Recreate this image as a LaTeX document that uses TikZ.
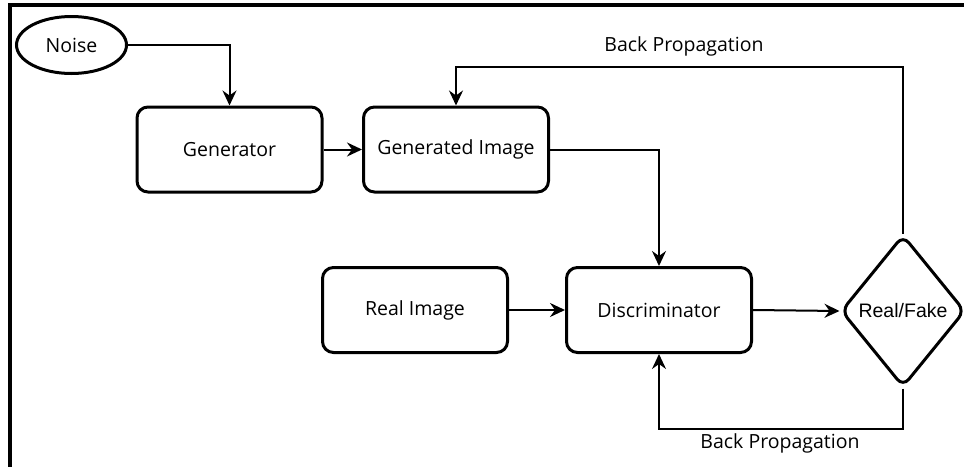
\documentclass[tikz,border=0pt]{standalone}
\usepackage{fontspec}
\setmainfont{Open Sans}
\newfontfamily\arialfont{Liberation Sans}
\usetikzlibrary{shapes.geometric,arrows.meta}

\tikzset{
  block/.style={draw,line width=3pt,rounded corners=11pt,
    minimum width=185pt,minimum height=85pt,font=\fontsize{19.5}{23}\selectfont},
  noisebox/.style={draw,ellipse,line width=3pt,
    minimum width=110pt,minimum height=57pt,font=\fontsize{19.5}{23}\selectfont},
  decision/.style={draw,diamond,line width=3pt,rounded corners=9pt,
    minimum width=124pt,minimum height=152pt,inner sep=0pt},
  conn/.style={line width=2pt,-{Stealth[length=15pt,width=14pt,inset=5pt]}},
  bplabel/.style={font=\fontsize{19.5}{23}\selectfont},
  frame/.style={line width=3.5pt}
}

\begin{document}
\begin{tikzpicture}[x=1pt,y=-1pt]
  \useasboundingbox (0,0) rectangle (964,466);

  % Rahmen
  \draw[frame] (10,470) -- (10,5) -- (970,5);

  % Bloecke
  \node[noisebox] (noise) at (71.5,45) {Noise};
  \node[block] (gen) at (229.5,149.5) {Generator};
  \node[block] (genimg) at (456,149.5) {Generated Image};
  \node[block] (real) at (415,310) {Real Image};
  \node[block] (disc) at (659,310) {Discriminator};
  \node[decision,label={center:\arialfont\fontsize{19.5}{23}\selectfont Real/Fake}] (judge) at (903,311) {};

  % Beschriftungen
  \node[bplabel] (bptop) at (684,46) {Back Propagation};
  \node[bplabel] (bpbottom) at (780,443) {Back Propagation};
  \coordinate (bpup) at (903,67);
  \coordinate (bpdown) at (903,429);

  % Vorwaerts
  \draw[conn] (noise.east) -| (gen.north);
  \draw[conn] (gen.east) -- (genimg.west);
  \draw[conn] (genimg.east) -| (disc.north);
  \draw[conn] (real.east) -- (disc.west);
  \draw[conn] (disc.east) -- (judge.west);

  % Rueckwaerts
  \draw[conn] (judge.north) -- (judge.north |- bpup) -| (genimg.north);
  \draw[conn] (judge.south) -- (judge.south |- bpdown) -| (disc.south);
\end{tikzpicture}
\end{document}
